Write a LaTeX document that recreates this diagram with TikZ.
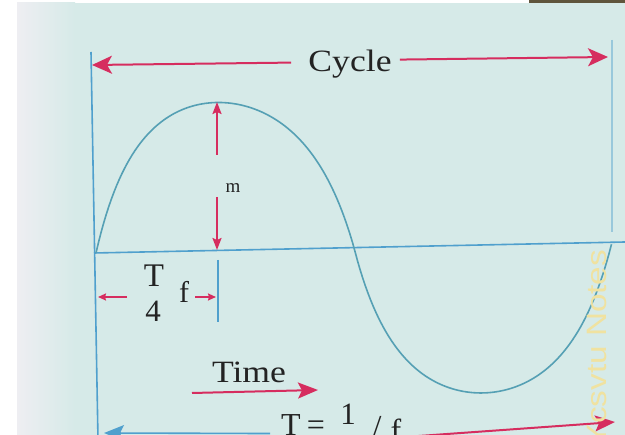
\documentclass[tikz,border=0pt]{standalone}
\usepackage{fontspec}
\setmainfont{Liberation Serif}
\newfontfamily\wmfont{Liberation Sans}
\usetikzlibrary{arrows.meta}
\definecolor{pagebg}{RGB}{214,234,232}
\definecolor{pagegray}{RGB}{238,238,242}
\definecolor{arrred}{RGB}{214,45,95}
\definecolor{blueline}{RGB}{80,160,205}
\definecolor{wavecol}{RGB}{85,160,180}
\definecolor{wmcol}{RGB}{240,226,160}
\definecolor{darkbar}{RGB}{95,85,60}
\definecolor{inkcol}{RGB}{35,35,35}
\begin{document}
\begin{tikzpicture}[x=1pt,y=-1pt,
  declare function={ss(\u)=sin(360*\u+6*max(0,sin(360*\u)));
                    wv(\u)=2.2*ss(\u)/(1+1.2*abs(ss(\u)));},
  redarr/.style={draw=arrred, line width=2pt},
  blarr/.style={draw=blueline, line width=1.6pt},
  bigtip/.style={-{Stealth[length=20pt,width=18pt,inset=5pt]}},
  midtip/.style={-{Stealth[length=12pt,width=9pt,inset=2pt]}},
  smalltip/.style={-{Stealth[length=8pt,width=7pt,inset=1pt]}},
  lbl/.style={inner sep=0pt, text=inkcol},
  big/.style={font=\fontsize{31}{31}\selectfont},
]
\useasboundingbox (0,0) rectangle (625,435);
\clip (0,0) rectangle (625,435);
% page background
\fill[white] (0,0) rectangle (625,435);
\shade[left color=pagegray, right color=pagebg] (17,3) rectangle (75,435);
\fill[pagebg] (75,3) rectangle (625,435);
\fill[darkbar] (529,0) rectangle (625,3);

% axes
\coordinate (vtop) at (91,52);
\coordinate (vbot) at (98,440);
\draw[blarr] (vtop) -- (vbot);
\coordinate (axL) at (94,253);
\coordinate (axR) at (625,242);
\draw[blarr] (axL) -- (axR);
\coordinate (rtop) at (612,40);
\coordinate (rbot) at (612,232);
\draw[draw=blueline, line width=1.4pt, opacity=0.45] (rtop) -- (rbot);

% wave
\draw[draw=wavecol, line width=1.6pt]
  plot[domain=0:1, samples=200, variable=\u]
  ({96+516*\u}, {253-10.73*\u-148*wv(\u)});

% Cycle
\node[lbl, big, anchor=base] (cyc) at (350,72) {\scalebox{1.15}[1]{Cycle}};
\coordinate (cycL) at (92,65);
\coordinate (cycR) at (608,57);
\draw[redarr, bigtip] ([xshift=-17pt,yshift=2pt]cyc.west) -- (cycL);
\draw[redarr, bigtip] ([xshift=8pt,yshift=5pt]cyc.east) -- (cycR);

% m arrows
\node[lbl, font=\fontsize{19}{19}\selectfont] (m) at (233,188) {m};
\coordinate (pk) at (217,102);
\coordinate (mU) at (217,155);
\coordinate (mD) at (217,197);
\coordinate (ax1) at (217,250);
\draw[redarr, midtip] (mU) -- (pk);
\draw[redarr, midtip] (mD) -- (ax1);

% quarter period mark
\coordinate (qt) at (218,260);
\coordinate (qb) at (218,322);
\draw[blarr] (qt) -- (qb);
\node[lbl, font=\fontsize{33}{33}\selectfont, anchor=base] (fT) at (154,287) {T};
\node[lbl, font=\fontsize{31}{31}\selectfont, anchor=base] (f4) at (153,322) {4};
\node[lbl, font=\fontsize{30}{30}\selectfont, anchor=base] (ff) at (184,303) {f};
\coordinate (qLs) at (127,297);
\coordinate (qL) at (98,297);
\coordinate (qRs) at (195,297);
\coordinate (qR) at (216,297);
\draw[redarr, smalltip] (qLs) -- (qL);
\draw[redarr, smalltip] (qRs) -- (qR);

% Time
\node[lbl, big, anchor=base] (time) at (249,383) {\scalebox{1.15}[1]{Time}};
\coordinate (tS) at (192,393);
\coordinate (tE) at (318,390);
\draw[redarr, -{Stealth[length=20pt,width=16pt,inset=4pt]}] (tS) -- (tE);

% T = 1/f
\node[lbl, font=\fontsize{32}{32}\selectfont, anchor=base] (bT) at (291,436) {T};
\node[lbl, font=\fontsize{32}{32}\selectfont, anchor=base] (bEq) at (316,436) {=};
\node[lbl, font=\fontsize{31}{31}\selectfont, anchor=base] (bOne) at (348,425) {1};
\node[lbl, font=\fontsize{32}{32}\selectfont, anchor=base] (bSl) at (377,438) {/};
\node[lbl, font=\fontsize{32}{32}\selectfont, anchor=base] (bF) at (396,442) {f};
\coordinate (bL) at (104,433);
\coordinate (bR) at (615,422);
\draw[blarr, -{Stealth[length=20pt,width=16pt,inset=4pt]}] ([xshift=-11pt,yshift=-8pt]bT.west) -- (bL);
\draw[redarr, -{Stealth[length=20pt,width=16pt,inset=4pt]}] ([xshift=7pt,yshift=-6pt]bF.east) -- (bR);

% watermark
\node[inner sep=0pt, text=wmcol, rotate=90, font=\wmfont\fontsize{28}{28}\selectfont] (wm) at (597,348) {\scalebox{1.19}[1]{Ycsvtu Notes}};
\end{tikzpicture}
\end{document}
